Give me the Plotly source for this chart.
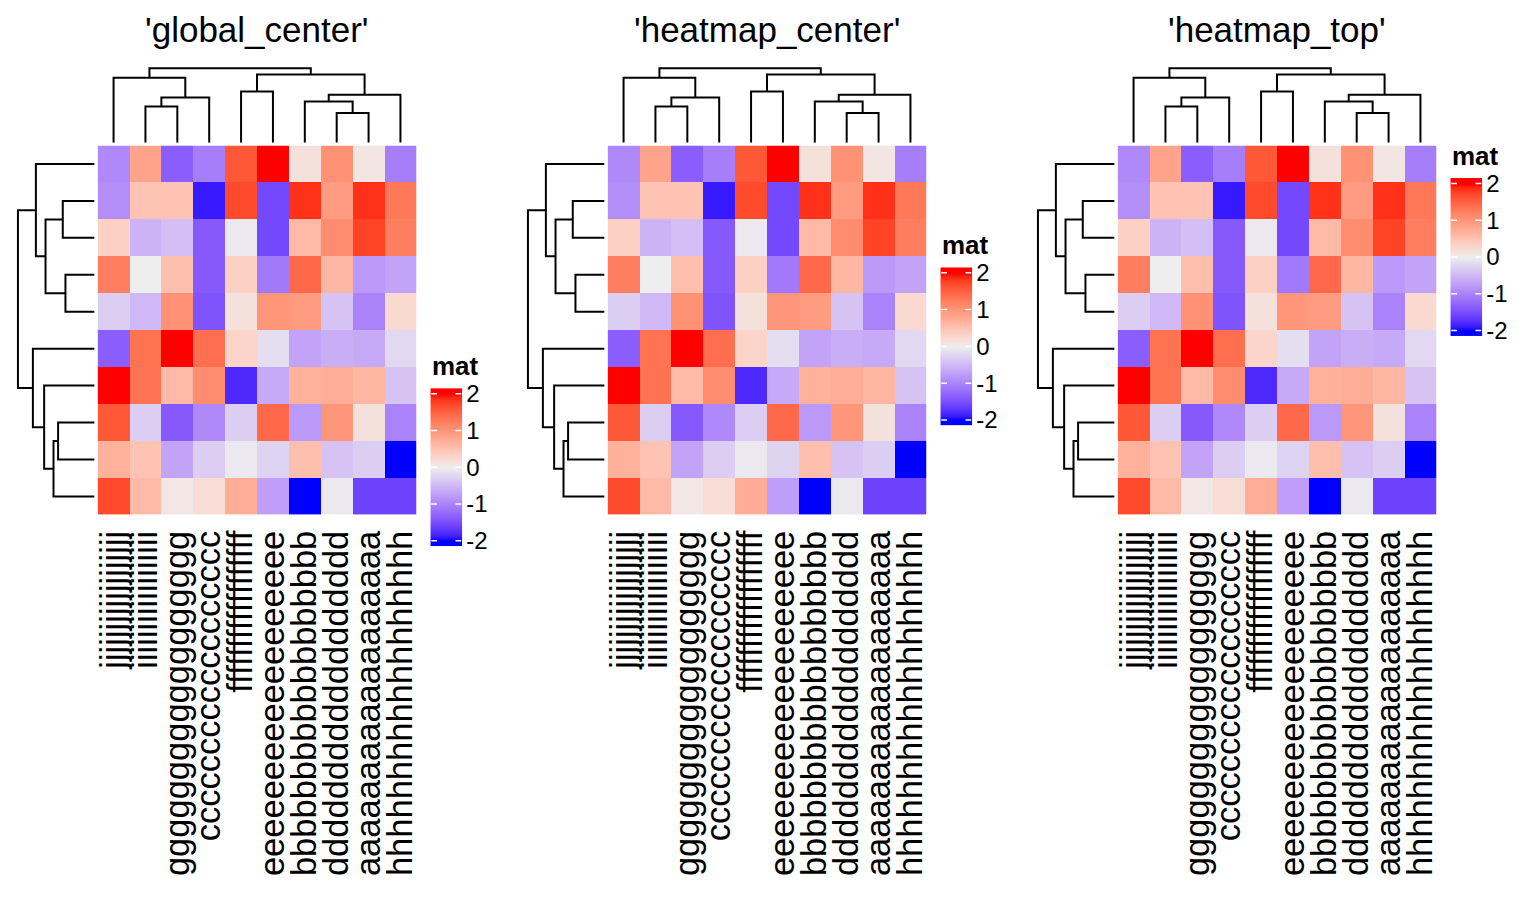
import plotly.graph_objects as go
import numpy as np

W, H = 1536, 902
FONT = "Liberation Sans, Arial, Helvetica, sans-serif"

# ---------------- data ----------------
panel_titles = ["'global_center'", "'heatmap_center'", "'heatmap_top'"]
col_letters = ["j", "i", "g", "c", "f", "e", "b", "d", "a", "h"]
label_repeat = 18
col_labels = [c * label_repeat for c in col_letters]

values = [
    [-0.95, 0.85, -1.35, -1.05, 1.60, 2.20, 0.15, 1.05, 0.10, -1.05],
    [-0.90, 0.50, 0.50, -1.90, 1.70, -1.55, 1.85, 0.95, 1.85, 1.30],
    [0.35, -0.55, -0.45, -1.40, -0.05, -1.55, 0.60, 1.10, 1.75, 1.25],
    [1.25, 0.00, 0.55, -1.40, 0.35, -1.10, 1.45, 0.65, -0.80, -0.70],
    [-0.30, -0.50, 1.05, -1.45, 0.15, 1.00, 0.95, -0.40, -1.00, 0.25],
    [-1.35, 1.35, 2.05, 1.40, 0.30, -0.15, -0.70, -0.60, -0.65, -0.20],
    [2.30, 1.35, 0.60, 1.10, -1.80, -0.65, 0.70, 0.75, 0.65, -0.40],
    [1.60, -0.30, -1.40, -0.95, -0.30, 1.45, -0.80, 1.00, 0.15, -1.00],
    [0.70, 0.50, -0.70, -0.30, -0.05, -0.25, 0.55, -0.40, -0.30, -2.30],
    [1.70, 0.60, 0.08, 0.20, 0.75, -0.75, -2.05, -0.05, -1.60, -1.60],
]

# dendrograms: (left, right, merge height); ints are leaf indices in display order
col_tree = (
    (0, ((1, 2, 36.7), 3, 46.0), 66.0),
    ((4, 5, 52.0), ((6, (7, 8, 30.0), 41.7), 9, 48.7), 69.4),
    75.7,
)
row_tree = (
    (0, ((1, 2, 31.7), (3, 4, 29.0), 49.0), 58.7),
    (5, (6, ((7, 8, 36.4), 9, 41.0), 50.4), 61.7),
    76.7,
)

legend_ticks = [-2, -1, 0, 1, 2]
legend_title = "mat"
color_breaks = [-2, 0, 2]
color_values = [(0, 0, 255), (238, 238, 238), (255, 0, 0)]

# ---------------- colour ramp in LAB ----------------
def _lin(c):
    c = c / 255.0
    return c / 12.92 if c <= 0.04045 else ((c + 0.055) / 1.055) ** 2.4

def _gam(c):
    c = 12.92 * c if c <= 0.0031308 else 1.055 * c ** (1 / 2.4) - 0.055
    return min(255, max(0, round(c * 255)))

WX, WY, WZ = 0.95047, 1.0, 1.08883

def rgb2lab(rgb):
    r, g, b = [_lin(v) for v in rgb]
    X = 0.4124 * r + 0.3576 * g + 0.1805 * b
    Y = 0.2126 * r + 0.7152 * g + 0.0722 * b
    Z = 0.0193 * r + 0.1192 * g + 0.9505 * b
    def f(t):
        return t ** (1 / 3) if t > 216 / 24389 else (24389 / 27 * t + 16) / 116
    fx_, fy_, fz_ = f(X / WX), f(Y / WY), f(Z / WZ)
    return (116 * fy_ - 16, 500 * (fx_ - fy_), 200 * (fy_ - fz_))

def lab2rgb(lab):
    L, a, b = lab
    fy_ = (L + 16) / 116
    fx_ = fy_ + a / 500
    fz_ = fy_ - b / 200
    def finv(t):
        return t ** 3 if t ** 3 > 216 / 24389 else (116 * t - 16) / (24389 / 27)
    X, Y, Z = WX * finv(fx_), WY * finv(fy_), WZ * finv(fz_)
    r = 3.2406 * X - 1.5372 * Y - 0.4986 * Z
    g = -0.9689 * X + 1.8758 * Y + 0.0415 * Z
    bb = 0.0557 * X - 0.2040 * Y + 1.0570 * Z
    return tuple(_gam(max(0.0, v)) for v in (r, g, bb))

labs = [rgb2lab(c) for c in color_values]
colorscale = []
nstop = 41
for k in range(nstop):
    t = k / (nstop - 1)
    v = color_breaks[0] + t * (color_breaks[-1] - color_breaks[0])
    if v <= color_breaks[1]:
        f = (v - color_breaks[0]) / (color_breaks[1] - color_breaks[0]); A, B = labs[0], labs[1]
    else:
        f = (v - color_breaks[1]) / (color_breaks[2] - color_breaks[1]); A, B = labs[1], labs[2]
    lab = tuple(A[i] + f * (B[i] - A[i]) for i in range(3))
    r, g, b = lab2rgb(lab)
    colorscale.append([t, f"rgb({r},{g},{b})"])

# ---------------- dendrogram paths ----------------
def dendro_path(node, xs, ys):
    if isinstance(node, int):
        return float(node), 0.0
    l, r, h = node
    pl, hl = dendro_path(l, xs, ys)
    pr, hr = dendro_path(r, xs, ys)
    xs += [pl, pl, pr, pr, None]
    ys += [hl, h, h, hr, None]
    return (pl + pr) / 2, h

cx, ch = [], []
dendro_path(col_tree, cx, ch)
rx, rh = [], []
dendro_path(row_tree, rx, rh)

# ---------------- layout geometry (pixels) ----------------
panel_offset = 512
hm_left, hm_right, hm_top, hm_bottom = 94, 414, 140, 516
col_dend_top, col_leaf_px = 50, 137
row_dend_left, row_leaf_px = 6, 90.7
leg_left = [428, 940, 1452]
leg_top = [387, 264, 173]
leg_w, leg_h = 32, 161
leg_ext = 2.15

def fx(px):
    return px / W

def fy(px):
    return 1 - px / H

fig = go.Figure()
layout = dict(
    width=W, height=H, margin=dict(l=0, r=0, t=0, b=0),
    paper_bgcolor="white", plot_bgcolor="white", showlegend=False,
    font=dict(family=FONT, color="black"),
)
annotations, shapes = [], []
axn = 0
n = len(col_labels)
line_style = dict(color="black", width=2)

def hidden_axis(**kw):
    d = dict(showgrid=False, zeroline=False, showline=False, showticklabels=False, ticks="")
    d.update(kw)
    return d

for p in range(3):
    o = panel_offset * p

    # heatmap
    axn += 1
    hx, hy = f"x{axn}", f"y{axn}"
    fig.add_trace(go.Heatmap(
        z=values, x=list(range(n)), y=list(range(len(values))),
        colorscale=colorscale, zmin=color_breaks[0], zmax=color_breaks[-1],
        showscale=False, hoverinfo="skip", xaxis=hx, yaxis=hy,
    ))
    layout[f"xaxis{axn}"] = hidden_axis(
        domain=[fx(hm_left + o), fx(hm_right + o)], range=[-0.5, n - 0.5],
        anchor=hy, showticklabels=True, tickvals=list(range(n)), ticktext=col_labels,
        tickangle=-90, tickfont=dict(size=34.5, family=FONT, color="black"),
        ticklabelstandoff=8,
    )
    layout[f"yaxis{axn}"] = hidden_axis(
        domain=[fy(hm_bottom), fy(hm_top)], range=[len(values) - 0.5, -0.5], anchor=hx,
    )

    # column dendrogram
    axn += 1
    dx, dy = f"x{axn}", f"y{axn}"
    fig.add_trace(go.Scatter(x=cx, y=ch, mode="lines", line=line_style,
                             hoverinfo="skip", xaxis=dx, yaxis=dy))
    layout[f"xaxis{axn}"] = hidden_axis(
        domain=[fx(hm_left + o), fx(hm_right + o)], range=[-0.5, n - 0.5], anchor=dy)
    layout[f"yaxis{axn}"] = hidden_axis(
        domain=[fy(hm_top), fy(col_dend_top)],
        range=[col_leaf_px - hm_top, col_leaf_px - col_dend_top], anchor=dx)

    # row dendrogram
    axn += 1
    dx, dy = f"x{axn}", f"y{axn}"
    fig.add_trace(go.Scatter(x=rh, y=rx, mode="lines", line=line_style,
                             hoverinfo="skip", xaxis=dx, yaxis=dy))
    layout[f"xaxis{axn}"] = hidden_axis(
        domain=[fx(row_dend_left + o), fx(hm_left + o)],
        range=[row_leaf_px - row_dend_left, row_leaf_px - hm_left], anchor=dy)
    layout[f"yaxis{axn}"] = hidden_axis(
        domain=[fy(hm_bottom), fy(hm_top)], range=[len(values) - 0.5, -0.5], anchor=dx)

    # legend bar
    axn += 1
    lx, ly = f"x{axn}", f"y{axn}"
    fig.add_trace(go.Heatmap(
        z=[[-leg_ext], [leg_ext]], x=[0], y=[-leg_ext, leg_ext], zsmooth="best",
        colorscale=colorscale, zmin=color_breaks[0], zmax=color_breaks[-1],
        showscale=False, hoverinfo="skip", xaxis=lx, yaxis=ly,
    ))
    layout[f"xaxis{axn}"] = hidden_axis(
        domain=[fx(leg_left[p]), fx(leg_left[p] + leg_w)], range=[-0.5, 0.5], anchor=ly)
    layout[f"yaxis{axn}"] = hidden_axis(
        domain=[fy(leg_top[p] + leg_h), fy(leg_top[p])], range=[-leg_ext, leg_ext],
        anchor=lx, side="right", showticklabels=True, tickvals=legend_ticks,
        ticktext=[str(t) for t in legend_ticks], ticklabelstandoff=3,
        tickfont=dict(size=24, family=FONT, color="black"),
    )
    for t in legend_ticks:
        for (a, b) in [(-0.47, -0.29), (0.29, 0.47)]:
            shapes.append(dict(type="line", xref=lx, yref=ly, x0=a, x1=b, y0=t, y1=t,
                               line=dict(color="white", width=1.5), layer="above"))
    annotations.append(dict(
        x=fx(leg_left[p]), y=fy(leg_top[p] - 5), xref="paper", yref="paper",
        xanchor="left", yanchor="bottom", text=f"<b>{legend_title}</b>", showarrow=False,
        font=dict(size=26, family=FONT, color="black"),
    ))

    # title
    annotations.append(dict(
        x=fx((hm_left + hm_right) / 2 + o), y=fy(22), xref="paper", yref="paper",
        xanchor="center", yanchor="middle", text=panel_titles[p], showarrow=False,
        font=dict(size=35, family=FONT, color="black"),
    ))

layout["annotations"] = annotations
layout["shapes"] = shapes
fig.update_layout(**layout)
fig.write_html(
    "out.html",
    config={"displayModeBar": False, "staticPlot": True},
    post_script="document.body.style.margin='0';document.body.style.overflow='hidden';",
)
